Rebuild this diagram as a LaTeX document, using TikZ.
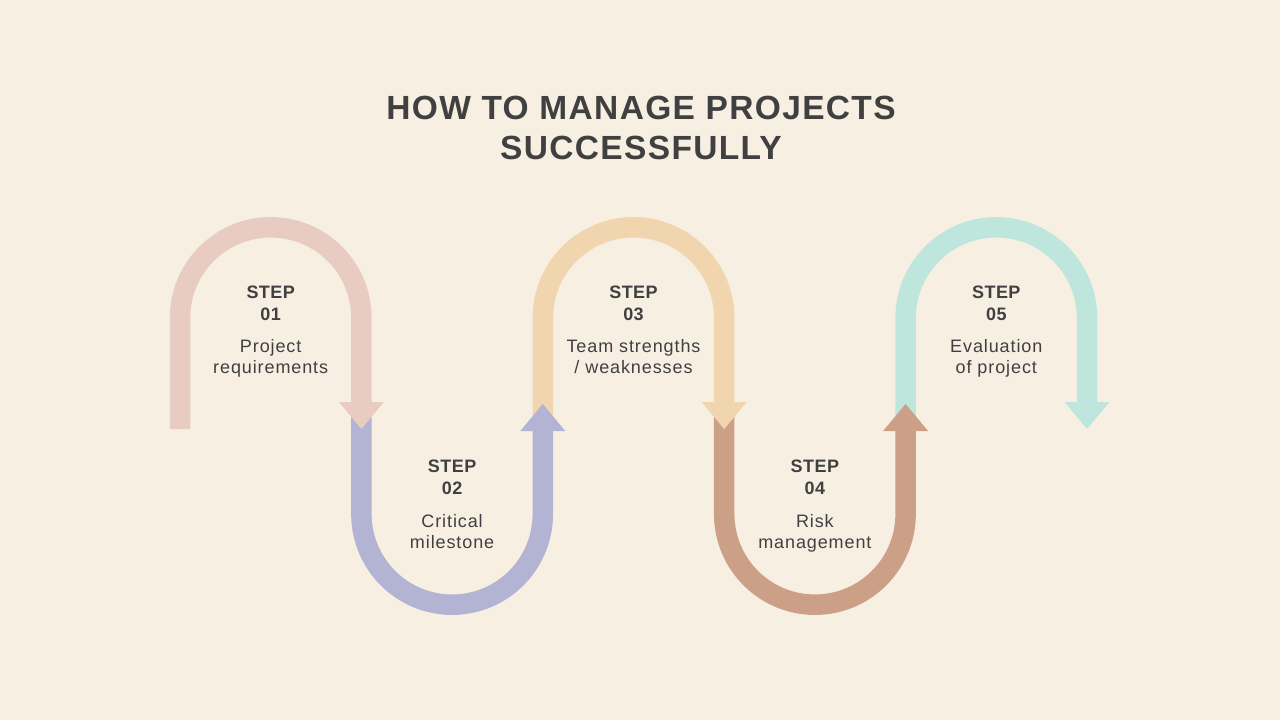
\documentclass[tikz,border=0pt]{standalone}
\usepackage{fontspec}
\setmainfont{Liberation Sans}
\newfontfamily\titlefont[LetterSpace=4.0]{Liberation Sans}
\newfontfamily\bodyfont[LetterSpace=5.0]{Liberation Sans}
\newfontfamily\headfont[LetterSpace=2.5]{Liberation Sans}
\definecolor{bg}{RGB}{247,240,226}
\definecolor{ink}{RGB}{64,64,64}
\definecolor{cpink}{RGB}{232,204,194}
\definecolor{cpurple}{RGB}{179,179,211}
\definecolor{cpeach}{RGB}{240,213,175}
\definecolor{cbrown}{RGB}{204,160,134}
\definecolor{cteal}{RGB}{190,230,220}
\tikzset{
  band/.style={line width=20.5pt, line cap=butt, line join=miter},
  stephead/.style={anchor=base, inner sep=0pt, text=ink, font=\headfont\bfseries\fontsize{18}{22}\selectfont},
  steptext/.style={anchor=base, inner sep=0pt, text=ink, font=\bodyfont\fontsize{18}{22}\selectfont},
  titletext/.style={anchor=base, inner sep=0pt, text=ink, font=\titlefont\bfseries\fontsize{33.5}{40}\selectfont}
}
\begin{document}
\begin{tikzpicture}[x=1pt,y=1pt]
\fill[bg] (0,0) rectangle (1280,-720);
\useasboundingbox (0,0) rectangle (1280,-720);
% title
\node[titletext] (t1) at (641,-119) {HOW TO MANAGE PROJECTS};
\node[titletext] (t2) at (641,-159) {SUCCESSFULLY};
% teal (step 5)
\draw[band, cteal] (905.6,-425) -- (905.6,-318) arc[start angle=180, end angle=0, radius=90.7] -- (1087,-402);
\fill[cteal] (1064.5,-402) -- (1109.5,-402) -- (1087,-429) -- cycle;
% brown (step 4)
\draw[band, cbrown] (724.2,-410) -- (724.2,-514) arc[start angle=180, end angle=360, radius=90.7] -- (905.6,-431);
\fill[cbrown] (883.1,-431) -- (928.1,-431) -- (905.6,-404) -- cycle;
% peach (step 3)
\draw[band, cpeach] (542.8,-425) -- (542.8,-318) arc[start angle=180, end angle=0, radius=90.7] -- (724.2,-402);
\fill[cpeach] (701.7,-402) -- (746.7,-402) -- (724.2,-429) -- cycle;
% purple (step 2)
\draw[band, cpurple] (361.4,-410) -- (361.4,-514) arc[start angle=180, end angle=360, radius=90.7] -- (542.8,-431);
\fill[cpurple] (520.3,-431) -- (565.3,-431) -- (542.8,-404) -- cycle;
% pink (step 1)
\draw[band, cpink] (180,-429) -- (180,-318) arc[start angle=180, end angle=0, radius=90.7] -- (361.4,-402);
\fill[cpink] (338.9,-402) -- (383.9,-402) -- (361.4,-429) -- cycle;
% texts
\node[stephead] (s1a) at (270.7,-298) {STEP};
\node[stephead] (s1b) at (270.7,-320) {01};
\node[steptext] (s1c) at (270.7,-352) {Project};
\node[steptext] (s1d) at (270.7,-373) {requirements};
\node[stephead] (s2a) at (452.1,-472) {STEP};
\node[stephead] (s2b) at (452.1,-494) {02};
\node[steptext] (s2c) at (452.1,-527) {Critical};
\node[steptext] (s2d) at (452.1,-548) {milestone};
\node[stephead] (s3a) at (633.5,-298) {STEP};
\node[stephead] (s3b) at (633.5,-320) {03};
\node[steptext] (s3c) at (633.5,-352) {Team strengths};
\node[steptext] (s3d) at (633.5,-373) {/ weaknesses};
\node[stephead] (s4a) at (814.9,-472) {STEP};
\node[stephead] (s4b) at (814.9,-494) {04};
\node[steptext] (s4c) at (814.9,-527) {Risk};
\node[steptext] (s4d) at (814.9,-548) {management};
\node[stephead] (s5a) at (996.3,-298) {STEP};
\node[stephead] (s5b) at (996.3,-320) {05};
\node[steptext] (s5c) at (996.3,-352) {Evaluation};
\node[steptext] (s5d) at (996.3,-373) {of project};
\end{tikzpicture}
\end{document}
